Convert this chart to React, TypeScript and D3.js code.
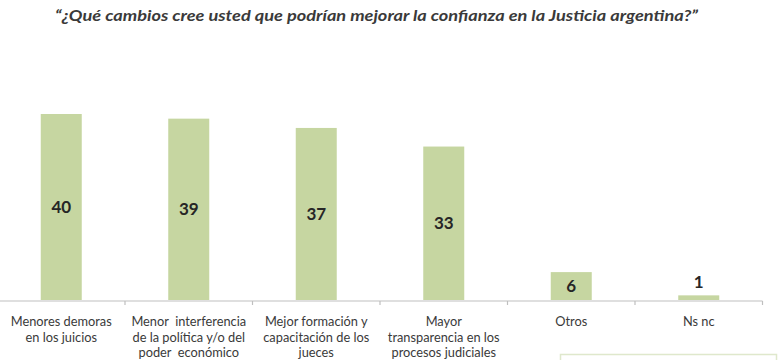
import React from "react";
import * as d3 from "d3";

const title = "“¿Qué cambios cree usted que podrían mejorar la confianza en la Justicia argentina?”";
const categories = ["menores", "interferencia", "formacion", "transparencia", "otros", "nsnc"];
const categoryLabels: string[][] = [
  ["Menores demoras", "en los juicios"],
  ["Menor  interferencia", "de la política y/o del", "poder  económico"],
  ["Mejor formación y", "capacitación de los", "jueces"],
  ["Mayor", "transparencia en los", "procesos judiciales"],
  ["Otros"],
  ["Ns nc"],
];
const values = [40, 39, 37, 33, 6, 1];

const W = 780;
const H = 360;

export default function App() {
  const x = d3.scaleBand<string>().domain(categories).range([-2.5, 762.5]).padding(0);
  const y = d3.scaleLinear().domain([0, 40]).range([300, 114]);
  const barW = 41;
  const baseY = y(0);
  const ticks = [...categories.map((c) => x(c) as number), 762.5];

  return (
    <svg
      width={W}
      height={H}
      style={{ position: "absolute", left: 0, top: 0, background: "#fff" }}
      fontFamily="Lato, 'Open Sans', sans-serif"
    >
      <text
        x={55}
        y={21}
        fontSize={15}
        fontStyle="italic"
        fontWeight={700}
        fill="#3a3a3a"
        textLength={643}
        lengthAdjust="spacingAndGlyphs"
      >
        {title}
      </text>

      {categories.map((c, i) => {
        const cx = (x(c) as number) + x.bandwidth() / 2;
        const v = values[i];
        const top = y(v);
        const h = baseY - top;
        const inside = h > 20;
        return (
          <g key={c}>
            <rect x={cx - barW / 2} y={top} width={barW} height={h} fill="#c6d6a1" />
            <text
              x={cx}
              y={inside ? (top + baseY) / 2 + 6 : top - 7}
              textAnchor="middle"
              fontSize={17}
              fontWeight={700}
              fill="#262626"
            >
              {v}
            </text>
            {categoryLabels[i].map((line, j) => (
              <text
                key={j}
                x={cx}
                y={326 + j * 15.5}
                textAnchor="middle"
                fontSize={12.8}
                fill="#3a3a3a"
                style={{ whiteSpace: "pre" }}
              >
                {line}
              </text>
            ))}
          </g>
        );
      })}

      <line x1={-2.5} x2={762.5} y1={baseY + 1} y2={baseY + 1} stroke="#bfbfbf" strokeWidth={1.2} />
      {ticks.map((t, i) => (
        <line key={i} x1={t} x2={t} y1={baseY + 1} y2={baseY + 5} stroke="#bfbfbf" strokeWidth={1.2} />
      ))}

      <rect x={560.5} y={354.5} width={216} height={20} fill="none" stroke="#dfe8cc" strokeWidth={1.5} />
    </svg>
  );
}
